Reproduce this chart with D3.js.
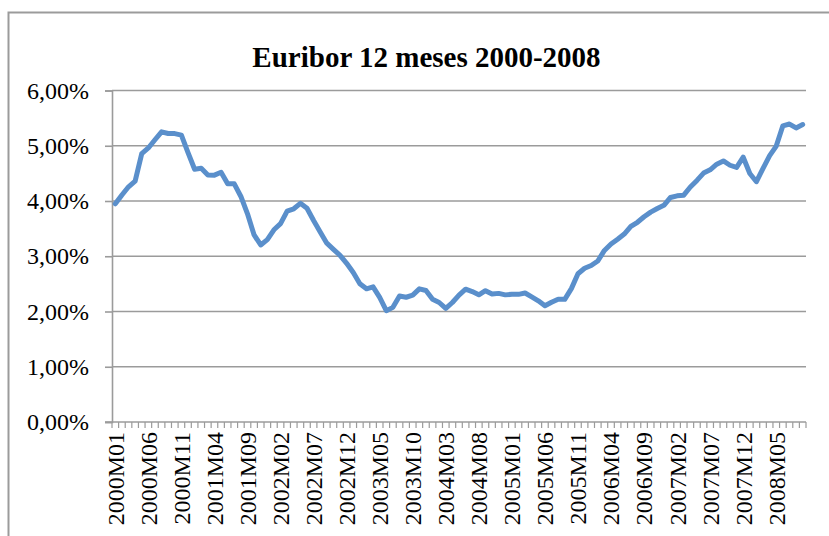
<!DOCTYPE html>
<html>
<head>
<meta charset="utf-8">
<script src="https://cdn.jsdelivr.net/npm/d3@7"></script>
<style>
  html, body { margin: 0; padding: 0; background: #fff; }
  svg { display: block; }
</style>
</head>
<body>
<svg id="chart" width="829" height="536"></svg>
<script>
// ---- Data ----
const title = "Euribor 12 meses 2000-2008";
const startYear = 2000;
const endYear = 2008;
const lastMonth2008 = 9;
const categories = [];
for (let y = startYear; y <= endYear; y++) {
  const last = (y === endYear) ? lastMonth2008 : 12;
  for (let m = 1; m <= last; m++) categories.push(y + "M" + String(m).padStart(2, "0"));
}
const euribor12m = [
  3.949, 4.109, 4.257, 4.359, 4.856, 4.960, 5.109, 5.252, 5.221, 5.220, 5.192, 4.877,
  4.574, 4.591, 4.471, 4.468, 4.519, 4.312, 4.311, 4.082, 3.768, 3.385, 3.204, 3.300,
  3.479, 3.590, 3.816, 3.859, 3.958, 3.868, 3.646, 3.440, 3.236, 3.126, 3.017, 2.872,
  2.705, 2.504, 2.411, 2.447, 2.255, 2.014, 2.075, 2.279, 2.258, 2.296, 2.410, 2.380,
  2.220, 2.163, 2.055, 2.163, 2.297, 2.404, 2.361, 2.302, 2.377, 2.316, 2.328, 2.301,
  2.312, 2.310, 2.335, 2.265, 2.193, 2.103, 2.168, 2.223, 2.220, 2.414, 2.684, 2.783,
  2.833, 2.914, 3.105, 3.221, 3.308, 3.401, 3.539, 3.615, 3.715, 3.799, 3.864, 3.921,
  4.064, 4.094, 4.106, 4.253, 4.373, 4.505, 4.564, 4.666, 4.725, 4.647, 4.607, 4.793,
  4.498, 4.349, 4.590, 4.820, 4.994, 5.361, 5.393, 5.323, 5.384
];
const yTicks = [0, 1, 2, 3, 4, 5, 6];
const xTickLabels = categories.filter((d, i) => i % 5 === 0);

// ---- Layout ----
const svg = d3.select("#chart");
const plot = { left: 112, right: 806, top: 90.5, bottom: 422 };
const gridColor = "#9b9b9b";
const lineColor = "#5a8fcb";
const serif = "'Liberation Serif', 'Times New Roman', serif";

// Chart area border (only top & left visible)
svg.append("rect")
  .attr("x", 8.5).attr("y", 12.5)
  .attr("width", 900).attr("height", 600)
  .attr("fill", "none").attr("stroke", gridColor).attr("stroke-width", 2);

const x = d3.scaleBand().domain(categories).range([plot.left, plot.right]).padding(0);
const y = d3.scaleLinear().domain([0, 6]).range([plot.bottom, plot.top]);

// Gridlines
svg.append("g").selectAll("line").data(yTicks.filter(d => d > 0)).join("line")
  .attr("x1", plot.left).attr("x2", plot.right)
  .attr("y1", d => y(d)).attr("y2", d => y(d))
  .attr("stroke", gridColor).attr("stroke-width", 1.6);

// Y axis
const fmt = d => d3.format(".2f")(d).replace(".", ",") + "%";
const yAxis = svg.append("g")
  .attr("transform", `translate(${plot.left},0)`)
  .call(d3.axisLeft(y).tickValues(yTicks).tickFormat(fmt).tickSize(7).tickPadding(16));
yAxis.select(".domain").attr("stroke", gridColor).attr("stroke-width", 1.6);
yAxis.selectAll(".tick line").attr("stroke", gridColor).attr("stroke-width", 1.6);
yAxis.selectAll(".tick text")
  .attr("font-family", serif).attr("font-size", 24).attr("fill", "#000");

// X axis line
svg.append("line")
  .attr("x1", plot.left - 7).attr("x2", plot.right)
  .attr("y1", plot.bottom).attr("y2", plot.bottom)
  .attr("stroke", gridColor).attr("stroke-width", 1.6);

// X tick marks at category boundaries
const boundaries = categories.map(d => x(d)).concat([plot.right]);
svg.append("g").selectAll("line").data(boundaries).join("line")
  .attr("x1", d => d).attr("x2", d => d)
  .attr("y1", plot.bottom).attr("y2", plot.bottom + 6)
  .attr("stroke", gridColor).attr("stroke-width", 1.2);

// X labels
const xAxis = svg.append("g")
  .attr("transform", `translate(0,${plot.bottom})`)
  .call(d3.axisBottom(x).tickValues(xTickLabels).tickSize(0));
xAxis.select(".domain").remove();
xAxis.selectAll(".tick text")
  .attr("font-family", serif).attr("font-size", 24).attr("fill", "#000")
  .attr("transform", "rotate(-90)")
  .attr("text-anchor", "end")
  .attr("x", -10).attr("y", 0).attr("dy", "0.35em");

// Line
const line = d3.line()
  .x((d, i) => x(categories[i]) + x.bandwidth() / 2)
  .y(d => y(d));
svg.append("path")
  .datum(euribor12m)
  .attr("d", line)
  .attr("fill", "none")
  .attr("stroke", lineColor)
  .attr("stroke-width", 5)
  .attr("stroke-linejoin", "round")
  .attr("stroke-linecap", "round");

// Title
svg.append("text")
  .attr("x", 426.5).attr("y", 67)
  .attr("text-anchor", "middle")
  .attr("font-family", serif).attr("font-weight", "bold").attr("font-size", 29)
  .attr("fill", "#000")
  .text(title);
</script>
</body>
</html>
